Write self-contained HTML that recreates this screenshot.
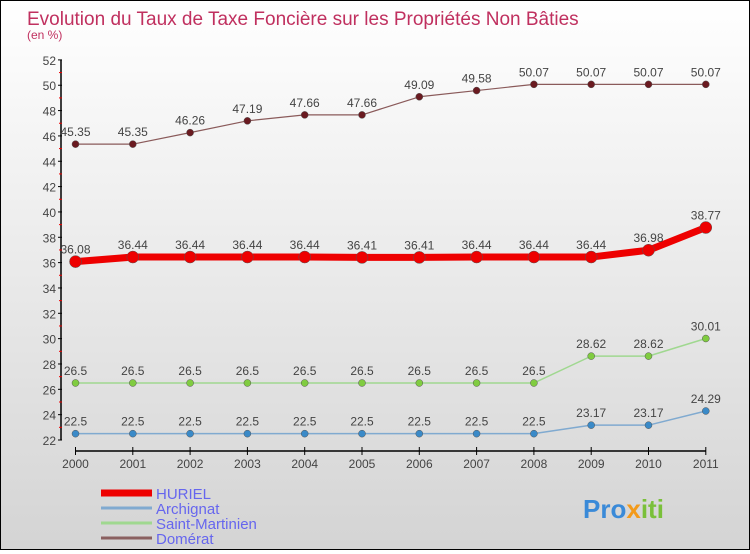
<!DOCTYPE html>
<html><head><meta charset="utf-8"><style>
body{margin:0;}
#c{width:748px;height:548px;border:1px solid #000;background:linear-gradient(#fff,#d4d4d4);position:relative;font-family:"Liberation Sans",sans-serif;}
</style></head><body>
<div id="c">
<svg width="748" height="548" id="svg">
<text x="26" y="24" font-size="19" fill="#c0305f">Evolution du Taux de Taxe Foncière sur les Propriétés Non Bâties</text>
<text x="26" y="38" font-size="12" fill="#c0305f">(en %)</text>
</svg>
</div>
<script>
const years=["2000","2001","2002","2003","2004","2005","2006","2007","2008","2009","2010","2011"];
const huriel=[36.08,36.44,36.44,36.44,36.44,36.41,36.41,36.44,36.44,36.44,36.98,38.77];
const archignat=[22.5,22.5,22.5,22.5,22.5,22.5,22.5,22.5,22.5,23.17,23.17,24.29];
const saintMartinien=[26.5,26.5,26.5,26.5,26.5,26.5,26.5,26.5,26.5,28.62,28.62,30.01];
const domerat=[45.35,45.35,46.26,47.19,47.66,47.66,49.09,49.58,50.07,50.07,50.07,50.07];
const yTicks=[22,24,26,28,30,32,34,36,38,40,42,44,46,48,50,52];
const svg=document.getElementById('svg');const NS='http://www.w3.org/2000/svg';
const X=i=>74.5+i*57.3, Y=v=>439-(v-22)*12.67;
function mk(t,a,p){const e=document.createElementNS(NS,t);for(const k in a)e.setAttribute(k,a[k]);(p||svg).appendChild(e);return e;}
let ax=mk('line',{x1:60,y1:Y(52),x2:60,y2:Y(22),stroke:'#000','stroke-width':1.5});


yTicks.forEach(v=>{mk('line',{x1:57,x2:61,y1:Y(v),y2:Y(v),stroke:'#000'});if(v<52)mk('line',{x1:58,x2:61,y1:Y(v+1),y2:Y(v+1),stroke:'#e00'});
const t=mk('text',{x:55,y:Y(v)+5,'font-size':12,fill:'#444','text-anchor':'end'});t.textContent=v;

});
let xa=mk('line',{x1:X(0),y1:450,x2:X(11),y2:450,stroke:'#000','stroke-width':1.5});


years.forEach((y,i)=>{mk('line',{x1:X(i),x2:X(i),y1:446,y2:454,stroke:'#000'});
const t=mk('text',{x:X(i),y:467,'font-size':12,fill:'#444','text-anchor':'middle'});t.textContent=y;

});
function series(d,name,col,dot,w,r,fs){
const g=mk('g',{});


mk('polyline',{points:d.map((v,i)=>X(i)+','+Y(v)).join(' '),fill:'none',stroke:col,'stroke-width':w,'stroke-linejoin':'round'},g);
d.forEach((v,i)=>{const c=mk('circle',{cx:X(i),cy:Y(v),r:r,fill:dot,stroke:'#555','stroke-width':0.5},g);


const t=mk('text',{x:X(i),y:Y(v)-8,'font-size':fs,fill:'#444','text-anchor':'middle'},g);t.textContent=v;

});}
series(domerat,'domerat','#8a5a5a','#6a1a20',1.2,3.5,12);
series(saintMartinien,'saint-martinien','#a0d890','#80cc40',1.5,3.5,12);
series(archignat,'archignat','#80aad0','#3a8ac8',1.5,3.5,12);
series(huriel,'huriel','#ee0000','#ee0000',7,6,12);
const leg=[['HURIEL','#ee0000',7],['Archignat','#80aad0',3],['Saint-Martinien','#a0d890',3],['Domérat','#8a6060',3]];
leg.forEach((l,i)=>{const y=492+i*15;const g=mk('g',{});


mk('line',{x1:100,x2:151,y1:y,y2:y,stroke:l[1],'stroke-width':l[2]},g);
const t=mk('text',{x:155,y:y+6,'font-size':15,fill:'#6666ee'},g);t.textContent=l[0];});
const lg=mk('text',{x:582,y:517,'font-size':26,'font-weight':'bold',fill:'#3a8ad8'});


lg.innerHTML='Pro<tspan fill="#f39a1a">x</tspan><tspan fill="#7ac03a">iti</tspan>';
</script>
</body></html>
